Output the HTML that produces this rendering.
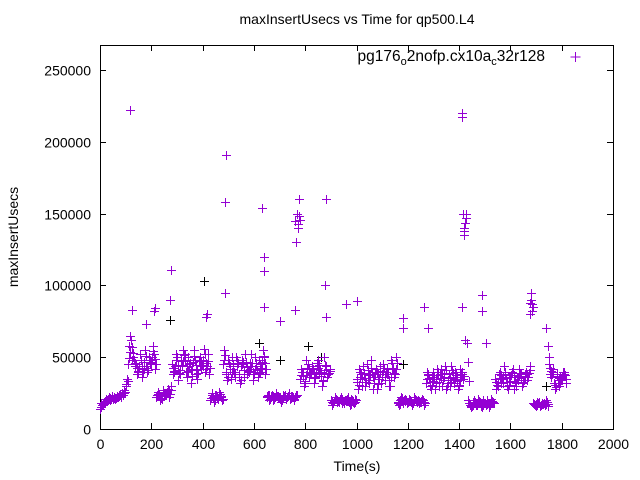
<!DOCTYPE html>
<html><head><meta charset="utf-8"><style>
html,body{margin:0;padding:0;background:#fff;}
svg{display:block;font-family:"Liberation Sans",sans-serif;}
</style></head><body>
<svg id="chart" width="640" height="480" xmlns="http://www.w3.org/2000/svg">
<rect width="640" height="480" fill="#fff"/>
<text x="357" y="24" text-anchor="middle" font-size="14">maxInsertUsecs vs Time for qp500.L4</text>
<text transform="translate(18,237) rotate(-90)" text-anchor="middle" font-size="14">maxInsertUsecs</text>
<text x="357" y="471" text-anchor="middle" font-size="14">Time(s)</text>
<g id="axes"></g>
<g id="marks"></g>
<g>
<text x="545" y="61" text-anchor="end" font-size="15.5">pg176<tspan dy="4" font-size="11">o</tspan><tspan dy="-4">2nofp.cx10a</tspan><tspan dy="4" font-size="11">c</tspan><tspan dy="-4">32r128</tspan></text>
<path d="M570.5 57h10M575.5 52v10" stroke="#9400d3" stroke-width="1"/>
</g>
</svg>
<script>
const xTicks=[0,200,400,600,800,1000,1200,1400,1600,1800,2000];
const yTicks=[0,50000,100000,150000,200000,250000];
const tStart=0, tStep=10;
const valsA=[14,17,19,20,20,21,21,22,22,24, 30,45, 62,50, 45,40,48,42,44,50,46,52, 22,24,21,23,25,22,
45,40,50,38,44,52,36,46,42,48,35,50,44,40,52, 20,22,24,21,23,
45,40,48,35,42,50,38,44,36,46,40,52,38,44,48,42,50, 22,20,24,21,23,22,20,24,22,21,23,22, 140,
35,40,32,45,38,42,36,48,40,34,44,38, 20,18,21,19,22,18,20,19,21,18,
35,42,30,38,45,32,40,36,28,44,38,34,42,30,46,38, 19,20,18,21,19,20,18,21,20,19,20,
32,38,28,40,35,30,42,36,28,38,44,32,36,30,40, 140, 60,18,16,20,17,19,15,18,20,17,19,
35,30,40,32,38,28,36,42,30,34,38,32,40,36, 90, 18,16,19,17,18,20, 45,36,32,38,30,34,40];
const valsB=[18,19,21,22,23,22,23,24,25,27, 35,58, 48,44, 38,52,36,55,40,45,58,42, 26,20,27,24,28,30,
38,52,34,48,55,40,50,32,55,38,48,42,56,46,38, 25,19,22,26,20,
55,34,42,50,36,44,32,48,52,38,46,34,50,36,40,55,38, 24,23,20,25,22,19,24,21,25,23,20,24, 148,
42,30,48,36,44,32,46,38,30,50,36,42, 17,22,19,21,18,20,22,17,19,21,
28,36,44,30,34,48,28,42,38,32,45,40,30,48,36,50, 17,22,20,18,21,17,22,19,18,21,17,
40,30,36,28,42,38,30,44,34,30,36,40,28,42,35, 150, 20,15,19,17,21,16,20,17,15,21,18,
28,38,32,44,30,36,40,28,36,42,30,38,34,44, 82, 17,19,16,18,17,16, 38,42,28,34,36,40,32];
const outT=[117,125,118,180,215,210,275,272,415,418,486,488,490,632,640,638,640,700,760,762,765,768,775,880,878,882,960,1000,1180,1180,1265,1280,1410,1412,1415,1418,1420,1422,1410,1490,1490,1505,1680,1675,1678,1740,1745,1750];
const outV=[222,83,65,73,84,82,111,90,78,80,95,158,191,154,120,110,85,75,83,145,130,150,160,160,100,78,87,89,77,70,85,70,220,217,150,138,135,62,85,93,82,60,95,88,80,70,58,50];
const blackT=[405,272,700,810,860,1180,1740,620];
const blackV=[103,76,48,58,50,45,30,60];

const X0=100,X1=613,Y0=429,Y1=45;
const xs=t=>X0+(t-0)/2000*(X1-X0);
const ys=v=>Y0-v/267400*(Y0-Y1);
const NS="http://www.w3.org/2000/svg";
const axes=document.getElementById('axes'), marks=document.getElementById('marks');
function mk(tag,attrs,parent){const e=document.createElementNS(NS,tag);for(const k in attrs)e.setAttribute(k,attrs[k]);parent.appendChild(e);return e;}
const frame=mk('rect',{x:X0+.5,y:Y1+.5,width:X1-X0,height:Y0-Y1,fill:'none',stroke:'#000','stroke-width':1},axes);


xTicks.forEach(t=>{const x=Math.round(xs(t))+.5;
 const p=mk('path',{d:`M${x} ${Y0}v-6M${x} ${Y1}v6`,stroke:'#000'},axes);
 
 
 const l=mk('text',{x:x,y:Y0+20,'text-anchor':'middle','font-size':14},axes);l.textContent=t;
 
 });
yTicks.forEach(v=>{const y=Math.round(ys(v))+.5;
 const p=mk('path',{d:`M${X0} ${y}h6M${X1} ${y}h-6`,stroke:'#000'},axes);
 
 
 const l=mk('text',{x:X0-9,y:y+5,'text-anchor':'end','font-size':14},axes);l.textContent=v;
 
 });
function plus(t,v,color,name){const x=Math.round(xs(t))+.5,y=Math.round(ys(v*1000))+.5;
 const p=mk('path',{d:`M${x-4.5} ${y}h9M${x} ${y-4.5}v9`,stroke:color,'stroke-width':1},marks);
 
 }
blackT.forEach((t,i)=>plus(t,blackV[i],'#000','point-black'));
valsA.forEach((v,i)=>{const t=tStart+i*tStep;plus(t,v,'#9400d3','point');plus(t+3,(v*2+valsB[i])/3,'#9400d3','point');plus(t+5,valsB[i],'#9400d3','point');plus(t+8,(v+valsB[i]*2)/3,'#9400d3','point');});
outT.forEach((t,i)=>plus(t,outV[i],'#9400d3','point-outlier'));
</script>
</body></html>
